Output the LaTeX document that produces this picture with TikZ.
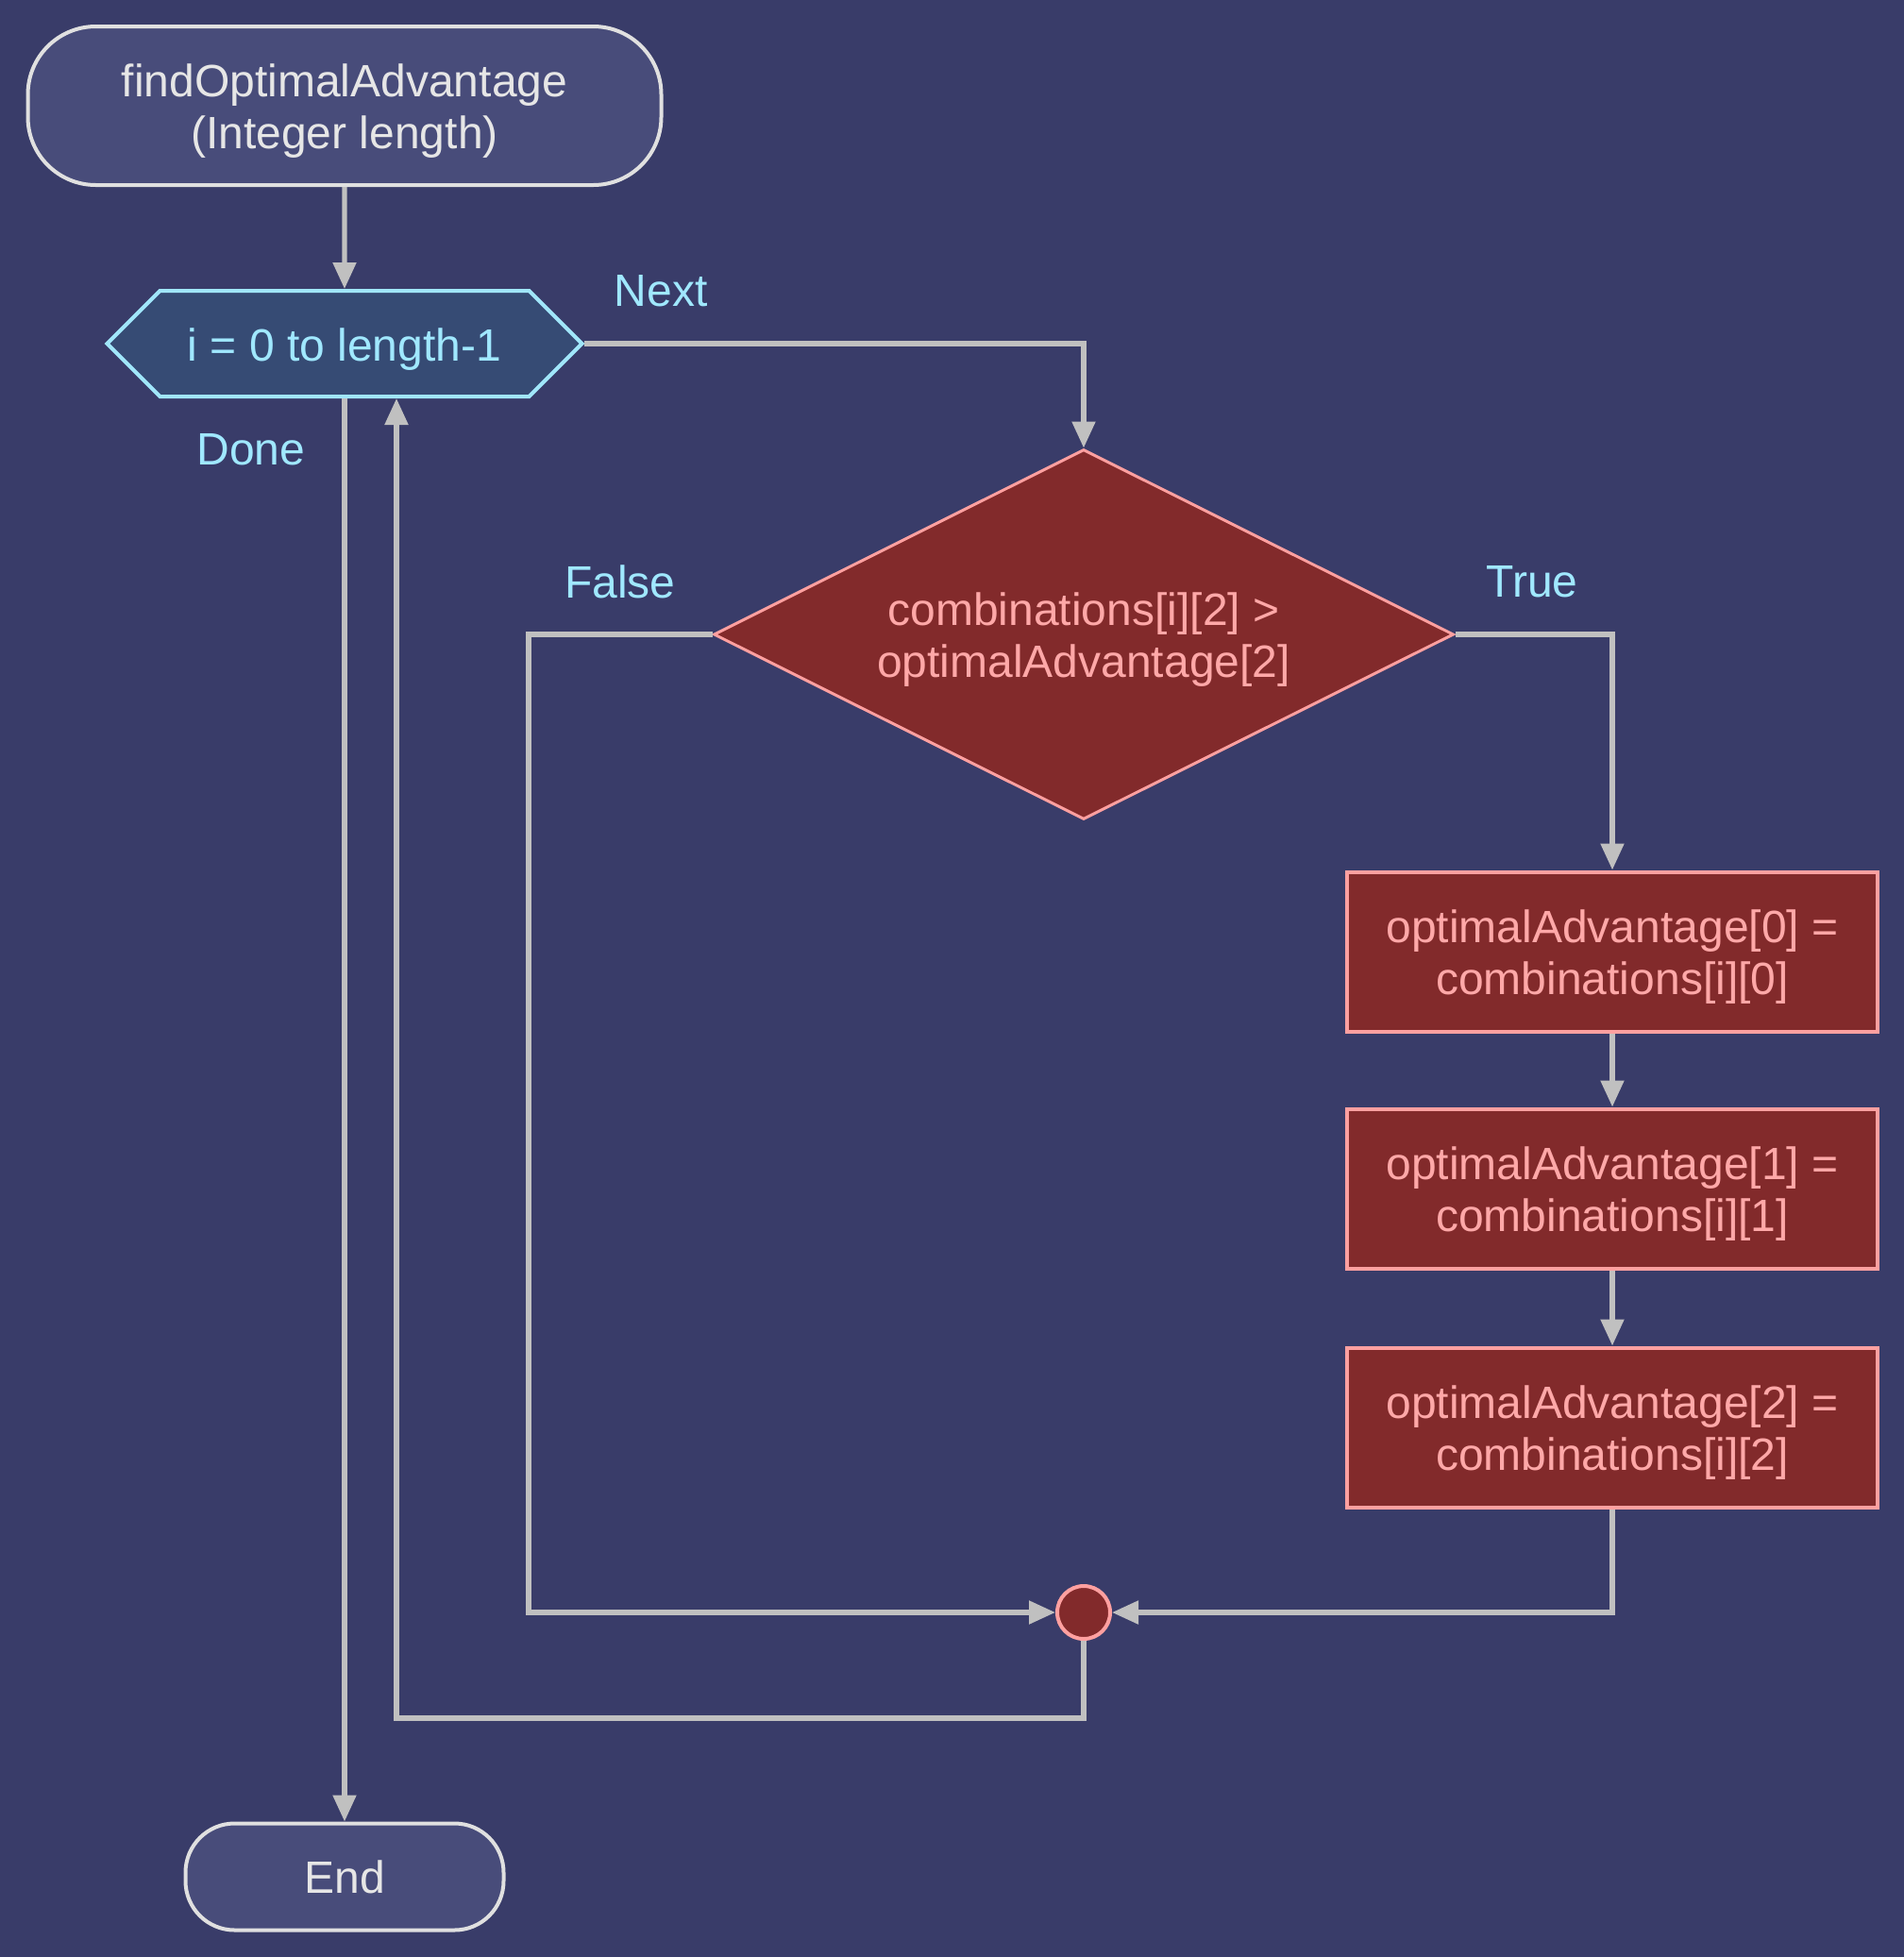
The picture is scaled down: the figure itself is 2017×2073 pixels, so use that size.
\documentclass[tikz,border=0pt]{standalone}
\usepackage{fontspec}
\setmainfont{Liberation Sans}
\usetikzlibrary{shapes.geometric, shapes.symbols, arrows.meta, positioning, calc}
\definecolor{canvas}{RGB}{57, 60, 105}
\definecolor{termfill}{RGB}{72, 76, 122}
\definecolor{termline}{RGB}{224, 224, 224}
\definecolor{termtext}{RGB}{230, 230, 230}
\definecolor{loopfill}{RGB}{54, 75, 116}
\definecolor{loopline}{RGB}{160, 230, 250}
\definecolor{looptext}{RGB}{160, 232, 255}
\definecolor{redfill}{RGB}{130, 42, 43}
\definecolor{redline}{RGB}{255, 160, 160}
\definecolor{redtext}{RGB}{255, 168, 168}
\definecolor{wire}{RGB}{192, 192, 192}
\tikzset{
    txt/.style={font=\fontsize{24}{27.5}\selectfont, align=center},
    lowtext/.style={execute at begin node={\rule{0pt}{23pt}}},
    lowtwo/.style={text height=50.2pt, text depth=5pt},
    terminal/.style={txt, rectangle, draw=termline, line width=2pt, fill=termfill, text=termtext, inner sep=0pt},
    loopbox/.style={txt, lowtext, signal, signal to=east and west, signal pointer angle=90, draw=loopline, line width=2pt, fill=loopfill, text=looptext, inner sep=0pt},
    cond/.style={txt, lowtwo, diamond, aspect=2, draw=redline, line width=1.5pt, fill=redfill, text=redtext, inner sep=0pt},
    action/.style={txt, lowtwo, rectangle, draw=redline, line width=2pt, fill=redfill, text=redtext, minimum width=281pt, minimum height=84.5pt, inner sep=0pt},
    junction/.style={circle, draw=redline, line width=2pt, fill=redfill, minimum size=28pt, inner sep=0pt},
    lbl/.style={txt, text=looptext},
    arr/.style={-{Triangle[length=14pt, width=12pt]}, line width=2.6pt, wire}
}
\begin{document}
\begin{tikzpicture}[x=0.5pt, y=-0.5pt]
    \fill[canvas] (0,0) rectangle (2017,2073);
    \useasboundingbox (0,0) rectangle (2017,2073);
    % nodes
    \node[terminal, lowtwo, rounded corners=36pt, minimum width=335.5pt, minimum height=84pt] (start) at (365,112) {findOptimalAdvantage\\(Integer length)};
    \node[loopbox, minimum width=251.5pt, minimum height=56pt] (loop) at (365,364) {i = 0 to length-1};
    \node[cond, minimum width=392pt, minimum height=196pt] (decide) at (1148,672) {combinations[i][2] >\\optimalAdvantage[2]};
    \node[action] (set0) at (1708,1008) {optimalAdvantage[0] =\\combinations[i][0]};
    \node[action] (set1) at (1708,1259) {optimalAdvantage[1] =\\combinations[i][1]};
    \node[action] (set2) at (1708,1512) {optimalAdvantage[2] =\\combinations[i][2]};
    \node[junction] (merge) at (1148,1708) {};
    \node[terminal, rounded corners=26pt, minimum width=168.5pt, minimum height=56.5pt] (end) at (365,1988) {End};
    \coordinate (fcorner) at (560,672);
    \coordinate (back) at (420,1820);
    % labels
    \node[lbl] (next) at (700,308) {Next};
    \node[lbl] (done) at (266,476) {Done};
    \node[lbl] (false) at (657,616) {False};
    \node[lbl] (true) at (1623,616) {True};
    % connectors
    \draw[arr] (start) -- (loop);
    \draw[arr] (loop.east) -| (decide.north);
    \draw[arr] (decide.east) -| (set0.north);
    \draw[arr] (set0) -- (set1); \draw[arr] (set1) -- (set2);
    \draw[arr] (set2.south) |- (merge.east);
    \draw[arr] (decide.west) -- (fcorner) |- (merge.west);
    \draw[arr] (merge.south) |- (back) -- (back |- loop.south);
    \draw[arr] (loop.south) -- (end);
\end{tikzpicture}
\end{document}
